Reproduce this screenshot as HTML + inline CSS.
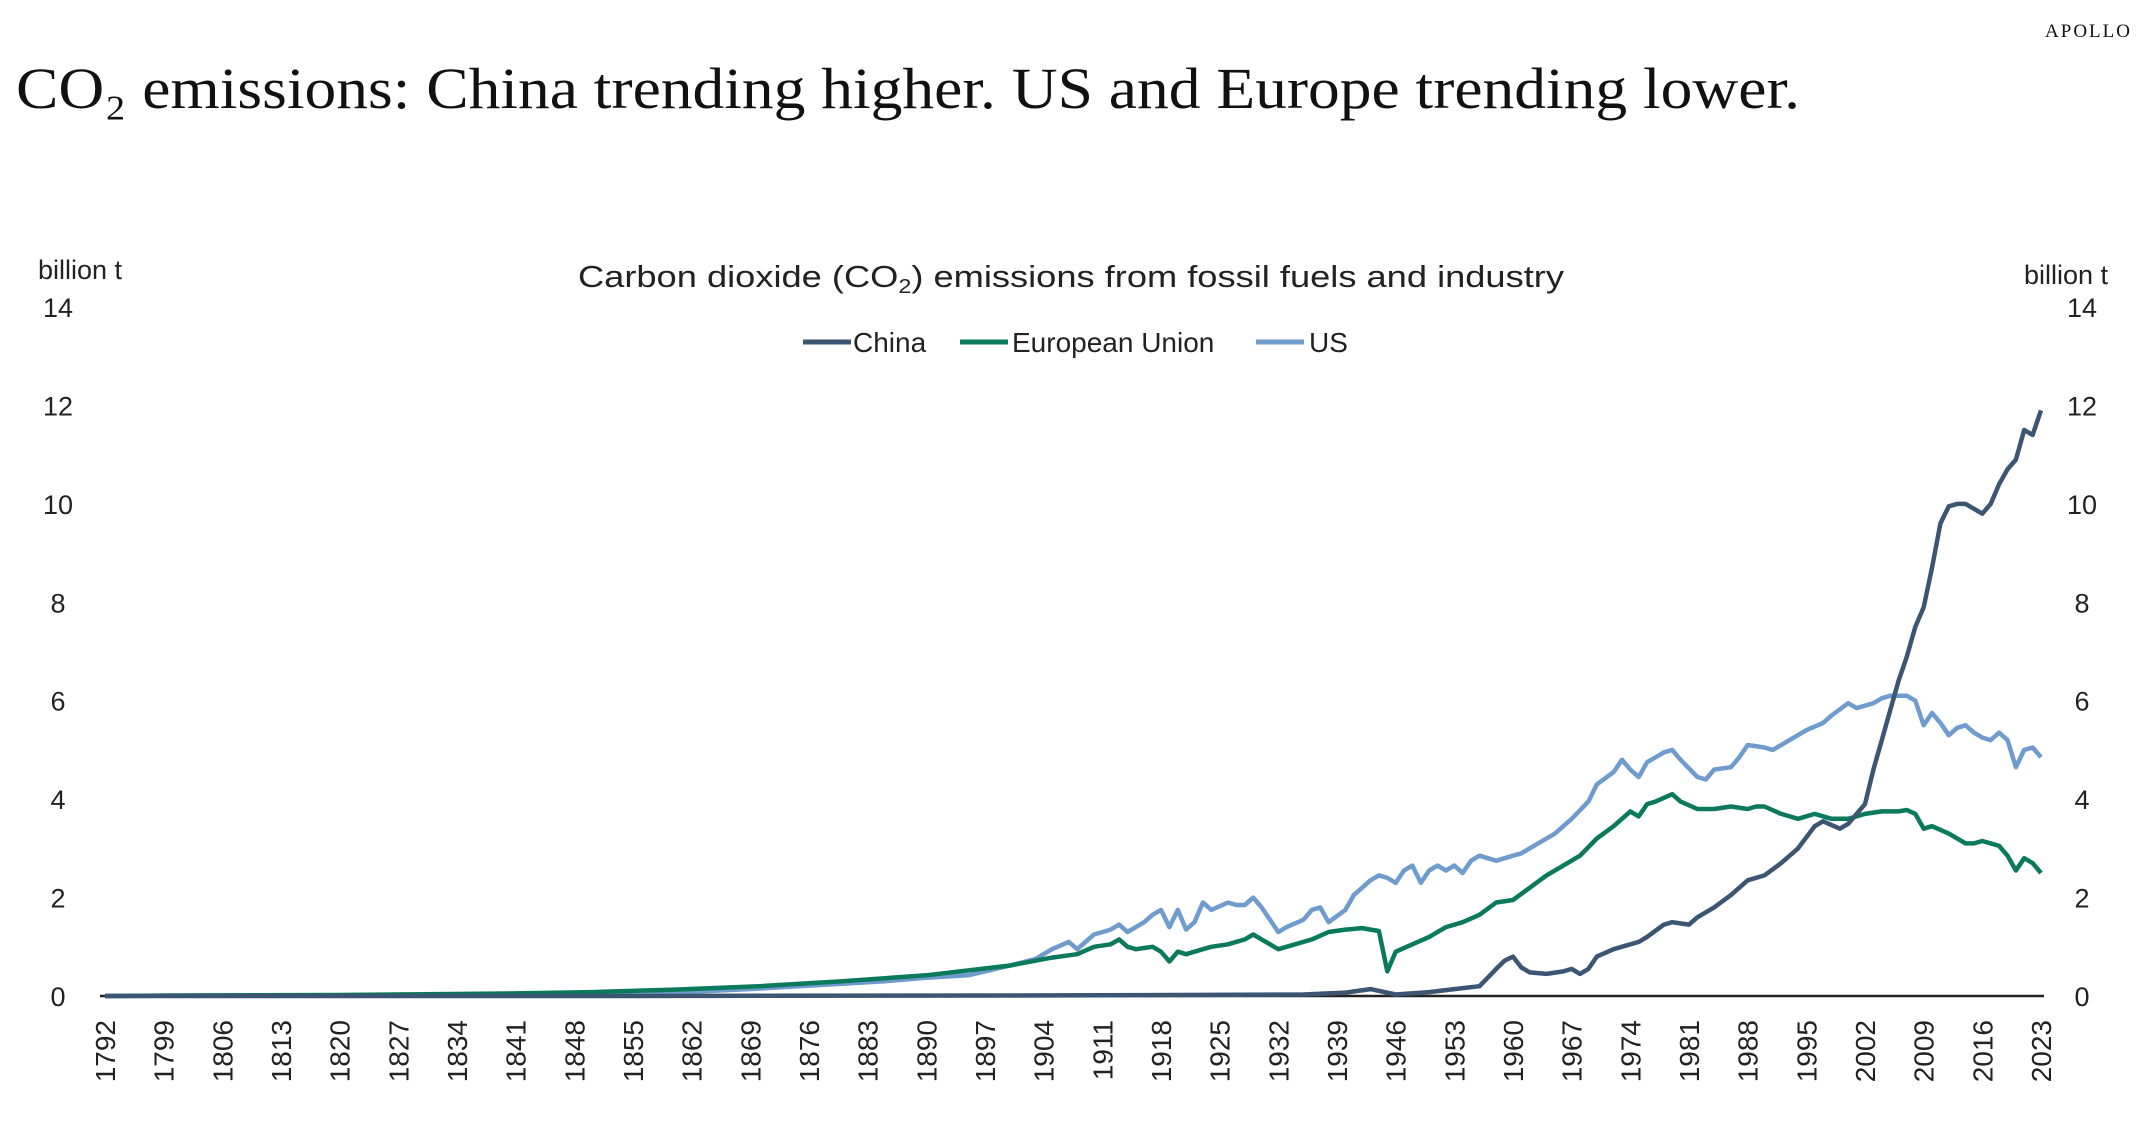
<!DOCTYPE html>
<html><head><meta charset="utf-8"><style>
html,body{margin:0;padding:0;background:#fff;}
svg{display:block;}
</style></head><body>
<svg id="chart" width="2148" height="1132" viewBox="0 0 2148 1132" xmlns="http://www.w3.org/2000/svg">
<text x="2132" y="37" text-anchor="end" font-family="Liberation Serif, serif" font-size="19" letter-spacing="2" fill="#111">APOLLO</text>
<text x="16" y="108" font-family="Liberation Serif, serif" font-size="58" fill="#111" textLength="1784" lengthAdjust="spacingAndGlyphs">CO₂ emissions: China trending higher. US and Europe trending lower.</text>
<text x="1071" y="287" text-anchor="middle" font-family="Liberation Sans, sans-serif" font-size="31" fill="#222" textLength="986" lengthAdjust="spacingAndGlyphs">Carbon dioxide (CO<tspan font-size="20" dy="6">2</tspan><tspan dy="-6">) emissions from fossil fuels and industry</tspan></text>
<text x="38" y="279" font-family="Liberation Sans, sans-serif" font-size="27" fill="#222">billion t</text>
<text x="2108" y="284" text-anchor="end" font-family="Liberation Sans, sans-serif" font-size="27" fill="#222">billion t</text>
<g font-family="Liberation Sans, sans-serif" font-size="28" fill="#222">
 <g><line x1="803" y1="342" x2="851" y2="342" stroke="#3b5573" stroke-width="5"/><text x="853" y="352">China</text></g>
 <g><line x1="960" y1="342" x2="1008" y2="342" stroke="#0b7a5c" stroke-width="5"/><text x="1012" y="352">European Union</text></g>
 <g><line x1="1256" y1="342" x2="1304" y2="342" stroke="#6f9ccc" stroke-width="5"/><text x="1309" y="352">US</text></g>
</g>
<g id="yaxes"></g>
<g id="xaxis"></g>
<g id="series"></g>
</svg>
<script>
const yTicks = [0,2,4,6,8,10,12,14];
const xTickYears = [];
for (let y = 1792; y <= 2023; y += 7) xTickYears.push(y);

const chinaYears = [1792,1850,1900,1920,1935,1940,1943,1946,1950,1953,1956,1958,1959,1960,1961,1962,1964,1966,1967,1968,1969,1970,1972,1974,1975,1976,1978,1979,1981,1982,1984,1986,1988,1990,1992,1994,1996,1997,1999,2000,2002,2003,2004,2005,2006,2007,2008,2009,2010,2011,2012,2013,2014,2015,2016,2017,2018,2019,2020,2021,2022,2023];
const chinaValues = [0,0,0.01,0.02,0.03,0.07,0.14,0.03,0.08,0.14,0.2,0.55,0.72,0.8,0.58,0.48,0.45,0.5,0.55,0.45,0.55,0.8,0.95,1.05,1.1,1.2,1.45,1.5,1.45,1.6,1.8,2.05,2.35,2.45,2.7,3.0,3.45,3.55,3.4,3.5,3.9,4.6,5.2,5.8,6.4,6.9,7.5,7.9,8.7,9.6,9.95,10.0,10.0,9.9,9.8,10.0,10.4,10.7,10.9,11.5,11.4,11.9];

const euYears = [1792,1800,1820,1840,1850,1860,1870,1880,1890,1900,1905,1908,1910,1912,1913,1914,1915,1917,1918,1919,1920,1921,1923,1924,1926,1928,1929,1930,1932,1934,1936,1938,1940,1942,1943,1944,1945,1946,1948,1950,1952,1954,1956,1958,1960,1962,1964,1966,1968,1970,1972,1973,1974,1975,1976,1977,1979,1980,1982,1984,1986,1988,1989,1990,1992,1994,1996,1998,2000,2002,2004,2006,2007,2008,2009,2010,2012,2014,2015,2016,2017,2018,2019,2020,2021,2022,2023];
const euValues = [0,0.01,0.02,0.05,0.08,0.13,0.2,0.3,0.42,0.62,0.78,0.85,1.0,1.05,1.15,1.0,0.95,1.0,0.9,0.7,0.9,0.85,0.95,1.0,1.05,1.15,1.25,1.15,0.95,1.05,1.15,1.3,1.35,1.38,1.35,1.32,0.5,0.9,1.05,1.2,1.4,1.5,1.65,1.9,1.95,2.2,2.45,2.65,2.85,3.2,3.45,3.6,3.75,3.65,3.9,3.95,4.1,3.95,3.8,3.8,3.85,3.8,3.85,3.85,3.7,3.6,3.7,3.6,3.6,3.7,3.75,3.75,3.78,3.7,3.4,3.45,3.3,3.1,3.1,3.15,3.1,3.05,2.85,2.55,2.8,2.7,2.5];

const usYears = [1792,1800,1820,1840,1850,1860,1870,1880,1885,1890,1895,1900,1903,1905,1907,1908,1910,1912,1913,1914,1916,1917,1918,1919,1920,1921,1922,1923,1924,1926,1927,1928,1929,1930,1932,1933,1935,1936,1937,1938,1940,1941,1943,1944,1945,1946,1947,1948,1949,1950,1951,1952,1953,1954,1955,1956,1958,1960,1961,1963,1965,1967,1969,1970,1972,1973,1974,1975,1976,1978,1979,1980,1982,1983,1984,1986,1987,1988,1990,1991,1993,1995,1997,1998,2000,2001,2003,2004,2005,2007,2008,2009,2010,2011,2012,2013,2014,2015,2016,2017,2018,2019,2020,2021,2022,2023];
const usValues = [0,0.005,0.01,0.02,0.03,0.07,0.15,0.25,0.3,0.37,0.42,0.62,0.75,0.95,1.1,0.95,1.25,1.35,1.45,1.3,1.5,1.65,1.75,1.4,1.75,1.35,1.5,1.9,1.75,1.9,1.85,1.85,2.0,1.8,1.3,1.4,1.55,1.75,1.8,1.5,1.75,2.05,2.35,2.45,2.4,2.3,2.55,2.65,2.3,2.55,2.65,2.55,2.65,2.5,2.75,2.85,2.75,2.85,2.9,3.1,3.3,3.6,3.95,4.3,4.55,4.8,4.6,4.45,4.75,4.95,5.0,4.8,4.45,4.4,4.6,4.65,4.85,5.1,5.05,5.0,5.2,5.4,5.55,5.7,5.95,5.85,5.95,6.05,6.1,6.1,6.0,5.5,5.75,5.55,5.3,5.45,5.5,5.35,5.25,5.2,5.35,5.2,4.65,5.0,5.05,4.85];

const NS = "http://www.w3.org/2000/svg";
const X0 = 105, X1 = 2041, Y0 = 996, YTOP = 307;
const xScale = yr => X0 + (yr - 1792) / (2023 - 1792) * (X1 - X0);
const yScale = v => Y0 - v / 14 * (Y0 - YTOP);

const yaxes = document.getElementById('yaxes');
yTicks.forEach(t => {
  const l = document.createElementNS(NS, 'text');
  
  
  l.setAttribute('x', 58); l.setAttribute('y', yScale(t) + 10);
  l.setAttribute('text-anchor', 'middle');
  l.setAttribute('font-family', 'Liberation Sans, sans-serif');
  l.setAttribute('font-size', '27'); l.setAttribute('fill', '#222');
  l.textContent = t; yaxes.appendChild(l);
  const r = document.createElementNS(NS, 'text');
  
  
  r.setAttribute('x', 2082); r.setAttribute('y', yScale(t) + 10);
  r.setAttribute('text-anchor', 'middle');
  r.setAttribute('font-family', 'Liberation Sans, sans-serif');
  r.setAttribute('font-size', '27'); r.setAttribute('fill', '#222');
  r.textContent = t; yaxes.appendChild(r);
});

const xaxis = document.getElementById('xaxis');
const axisLine = document.createElementNS(NS, 'line');


axisLine.setAttribute('x1', 100); axisLine.setAttribute('x2', 2044);
axisLine.setAttribute('y1', Y0); axisLine.setAttribute('y2', Y0);
axisLine.setAttribute('stroke', '#222'); axisLine.setAttribute('stroke-width', '2.5');
xaxis.appendChild(axisLine);
xTickYears.forEach(yr => {
  const t = document.createElementNS(NS, 'text');
  
  
  const x = xScale(yr) + 10, y = 1020;
  t.setAttribute('x', x); t.setAttribute('y', y);
  t.setAttribute('text-anchor', 'end');
  t.setAttribute('transform', `rotate(-90 ${x} ${y})`);
  t.setAttribute('font-family', 'Liberation Sans, sans-serif');
  t.setAttribute('font-size', '28'); t.setAttribute('fill', '#222');
  t.textContent = yr; xaxis.appendChild(t);
});

const series = document.getElementById('series');
function draw(years, vals, color, name) {
  const p = document.createElementNS(NS, 'path');
  
  
  p.setAttribute('d', years.map((yr, i) => (i ? 'L' : 'M') + xScale(yr).toFixed(1) + ' ' + yScale(vals[i]).toFixed(1)).join(' '));
  p.setAttribute('fill', 'none'); p.setAttribute('stroke', color);
  p.setAttribute('stroke-width', '4.5'); p.setAttribute('stroke-linejoin', 'round');
  series.appendChild(p);
}
draw(usYears, usValues, '#6f9ccc', 'us-line');
draw(euYears, euValues, '#0b7a5c', 'eu-line');
draw(chinaYears, chinaValues, '#3b5573', 'china-line');
</script>
</body></html>
